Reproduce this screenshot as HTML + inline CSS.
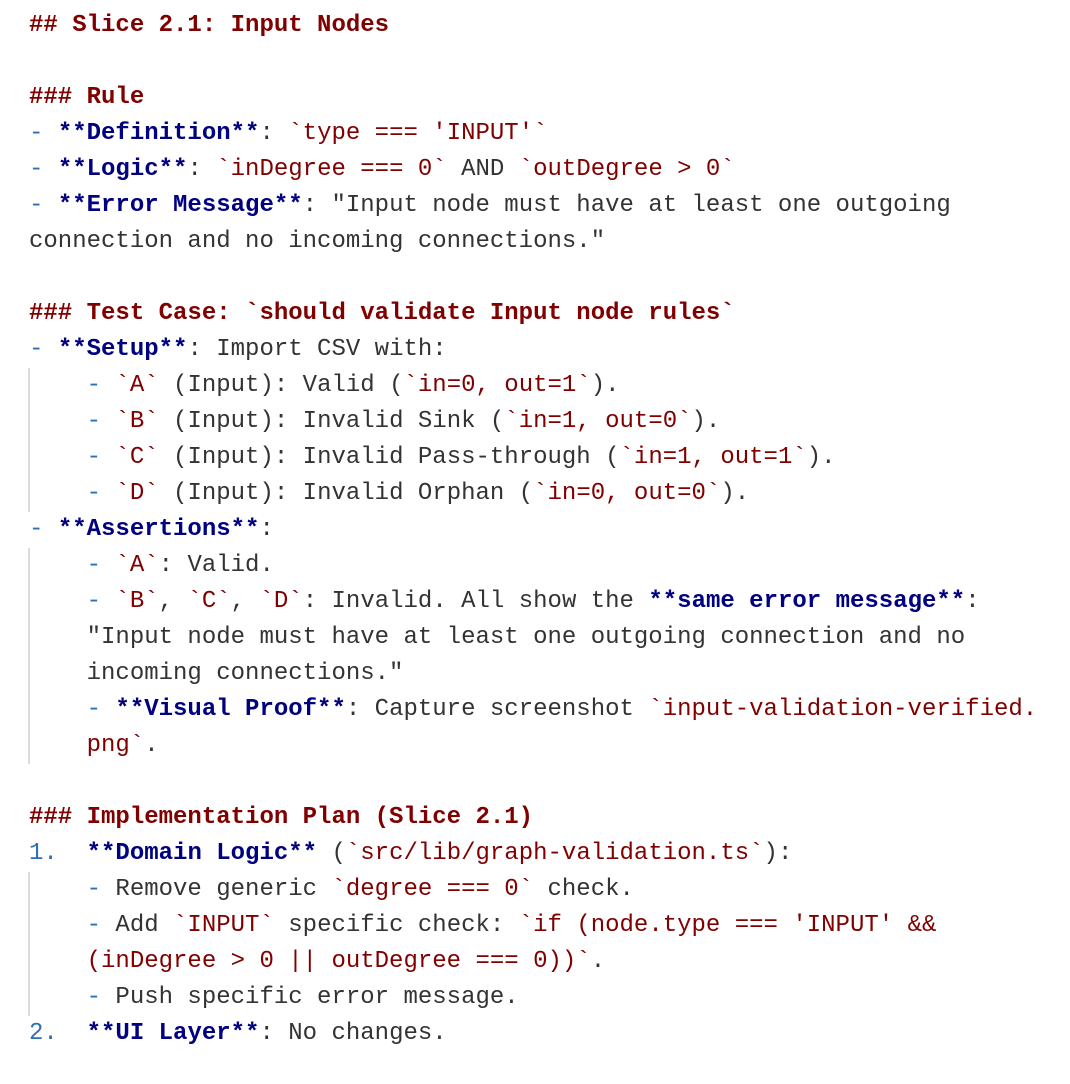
<!DOCTYPE html>
<html><head><meta charset="utf-8"><style>
html,body{margin:0;padding:0;background:#fff;width:1070px;height:1084px;overflow:hidden}
body{position:relative;font-family:"Liberation Mono","DejaVu Sans Mono",monospace;font-size:24px;color:#333}
.l{position:absolute;left:29px;height:36px;line-height:36px;white-space:pre}
.h{color:#800000;font-weight:bold}
.d{color:#2f6fb3}
.b{color:#000080;font-weight:bold}
.c{color:#800000}
.bar{position:absolute;left:28px;width:2px;background:#dcdcdc}
</style></head><body>
<div class="bar" style="top:368px;height:144px"></div>
<div class="bar" style="top:548px;height:216px"></div>
<div class="bar" style="top:872px;height:144px"></div>
<div class="l h" style="top:8px">## Slice 2.1: Input Nodes</div>
<div class="l h" style="top:80px">### Rule</div>
<div class="l" style="top:116px"><span class="d">-</span> <span class="b">**Definition**</span>: <span class="c">`type === 'INPUT'`</span></div>
<div class="l" style="top:152px"><span class="d">-</span> <span class="b">**Logic**</span>: <span class="c">`inDegree === 0`</span> AND <span class="c">`outDegree &gt; 0`</span></div>
<div class="l" style="top:188px"><span class="d">-</span> <span class="b">**Error Message**</span>: "Input node must have at least one outgoing</div>
<div class="l" style="top:224px">connection and no incoming connections."</div>
<div class="l h" style="top:296px">### Test Case: `should validate Input node rules`</div>
<div class="l" style="top:332px"><span class="d">-</span> <span class="b">**Setup**</span>: Import CSV with:</div>
<div class="l" style="top:368px">    <span class="d">-</span> <span class="c">`A`</span> (Input): Valid (<span class="c">`in=0, out=1`</span>).</div>
<div class="l" style="top:404px">    <span class="d">-</span> <span class="c">`B`</span> (Input): Invalid Sink (<span class="c">`in=1, out=0`</span>).</div>
<div class="l" style="top:440px">    <span class="d">-</span> <span class="c">`C`</span> (Input): Invalid Pass-through (<span class="c">`in=1, out=1`</span>).</div>
<div class="l" style="top:476px">    <span class="d">-</span> <span class="c">`D`</span> (Input): Invalid Orphan (<span class="c">`in=0, out=0`</span>).</div>
<div class="l" style="top:512px"><span class="d">-</span> <span class="b">**Assertions**</span>:</div>
<div class="l" style="top:548px">    <span class="d">-</span> <span class="c">`A`</span>: Valid.</div>
<div class="l" style="top:584px">    <span class="d">-</span> <span class="c">`B`</span>, <span class="c">`C`</span>, <span class="c">`D`</span>: Invalid. All show the <span class="b">**same error message**</span>:</div>
<div class="l" style="top:620px">    "Input node must have at least one outgoing connection and no</div>
<div class="l" style="top:656px">    incoming connections."</div>
<div class="l" style="top:692px">    <span class="d">-</span> <span class="b">**Visual Proof**</span>: Capture screenshot <span class="c">`input-validation-verified.</span></div>
<div class="l" style="top:728px">    <span class="c">png`</span>.</div>
<div class="l h" style="top:800px">### Implementation Plan (Slice 2.1)</div>
<div class="l" style="top:836px"><span class="d">1.</span>  <span class="b">**Domain Logic**</span> (<span class="c">`src/lib/graph-validation.ts`</span>):</div>
<div class="l" style="top:872px">    <span class="d">-</span> Remove generic <span class="c">`degree === 0`</span> check.</div>
<div class="l" style="top:908px">    <span class="d">-</span> Add <span class="c">`INPUT`</span> specific check: <span class="c">`if (node.type === 'INPUT' &amp;&amp;</span></div>
<div class="l" style="top:944px">    <span class="c">(inDegree &gt; 0 || outDegree === 0))`</span>.</div>
<div class="l" style="top:980px">    <span class="d">-</span> Push specific error message.</div>
<div class="l" style="top:1016px"><span class="d">2.</span>  <span class="b">**UI Layer**</span>: No changes.</div>
</body></html>
